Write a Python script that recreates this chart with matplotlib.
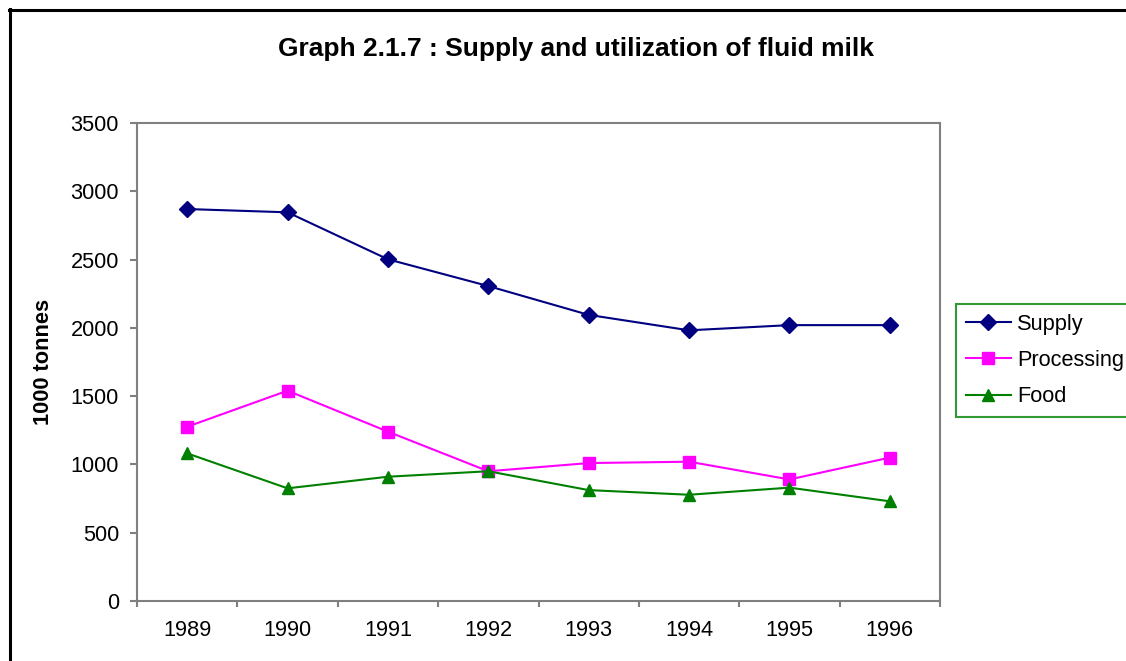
import matplotlib
matplotlib.use("Agg")
import matplotlib.pyplot as plt
from matplotlib.lines import Line2D

plt.rcParams['font.family'] = ['Liberation Sans', 'DejaVu Sans']

years = ["1989", "1990", "1991", "1992", "1993", "1994", "1995", "1996"]
supply = [2870, 2846, 2502, 2306, 2095, 1982, 2020, 2020]
processing = [1276, 1540, 1240, 950, 1010, 1020, 890, 1050]
food = [1081, 825, 910, 950, 812, 778, 830, 730]
series_names = ["Supply", "Processing", "Food"]
yticks = [0, 500, 1000, 1500, 2000, 2500, 3000, 3500]

W, H = 1126, 661
fig = plt.figure(figsize=(W / 100, H / 100), dpi=100)
fig.patch.set_facecolor("white")

ax = fig.add_axes([137 / W, 1 - 601 / H, (940 - 137) / W, (601 - 123) / H])
x = list(range(len(years)))

ax.plot(x, supply, color="#000080", lw=1.5, marker="D", ms=8.5, mfc="#000080",
        mec="#000080", label=series_names[0], clip_on=False)
ax.plot(x, processing, color="#FF00FF", lw=1.5, marker="s", ms=8.5, mfc="#FF00FF",
        mec="#FF00FF", label=series_names[1], clip_on=False)
ax.plot(x, food, color="#008000", lw=1.5, marker="^", ms=9, mfc="#008000",
        mec="#008000", label=series_names[2], clip_on=False)

ax.set_xlim(-0.5, len(years) - 0.5)
ax.set_ylim(0, 3500)
ax.set_yticks(yticks)
ax.set_yticklabels([str(v) for v in yticks])
ax.set_xticks(x)
ax.set_xticklabels(years)
ax.set_xticks([i - 0.5 for i in range(len(years) + 1)], minor=True)

for s in ax.spines.values():
    s.set_color("#808080")
    s.set_linewidth(1.5)

FS = 15.7
ax.tick_params(axis="y", which="major", direction="out", length=5, width=1.5,
               color="#808080", pad=8, labelsize=FS, labelcolor="black")
ax.tick_params(axis="x", which="major", length=0, pad=14, labelsize=FS,
               labelcolor="black")
ax.tick_params(axis="x", which="minor", direction="out", length=4.5, width=1.5,
               color="#808080")

ax.set_ylabel("1000 tonnes", fontsize=FS, fontweight="bold", labelpad=12)

fig.text(576 / W, 1 - 49 / H, "Graph 2.1.7 : Supply and utilization of fluid milk",
         ha="center", va="center", fontsize=19, fontweight="bold")

leg = fig.legend(loc="upper left", bbox_to_anchor=(956 / W, 1 - 304 / H),
                 frameon=True, fancybox=False, fontsize=FS, handlelength=2.06,
                 handletextpad=0.28, borderpad=0.45, labelspacing=0.7,
                 borderaxespad=0)
leg.get_frame().set_edgecolor("#008000")
leg.get_frame().set_linewidth(1.5)

# outer chart border
fig.add_artist(Line2D([8.5 / W, 1.0], [1 - 9.5 / H, 1 - 9.5 / H],
                      transform=fig.transFigure, color="black", lw=2.2))
fig.add_artist(Line2D([9.5 / W, 9.5 / W], [1 - 8.5 / H, 0.0],
                      transform=fig.transFigure, color="black", lw=2.2))

fig.savefig("out.png", dpi=100)
